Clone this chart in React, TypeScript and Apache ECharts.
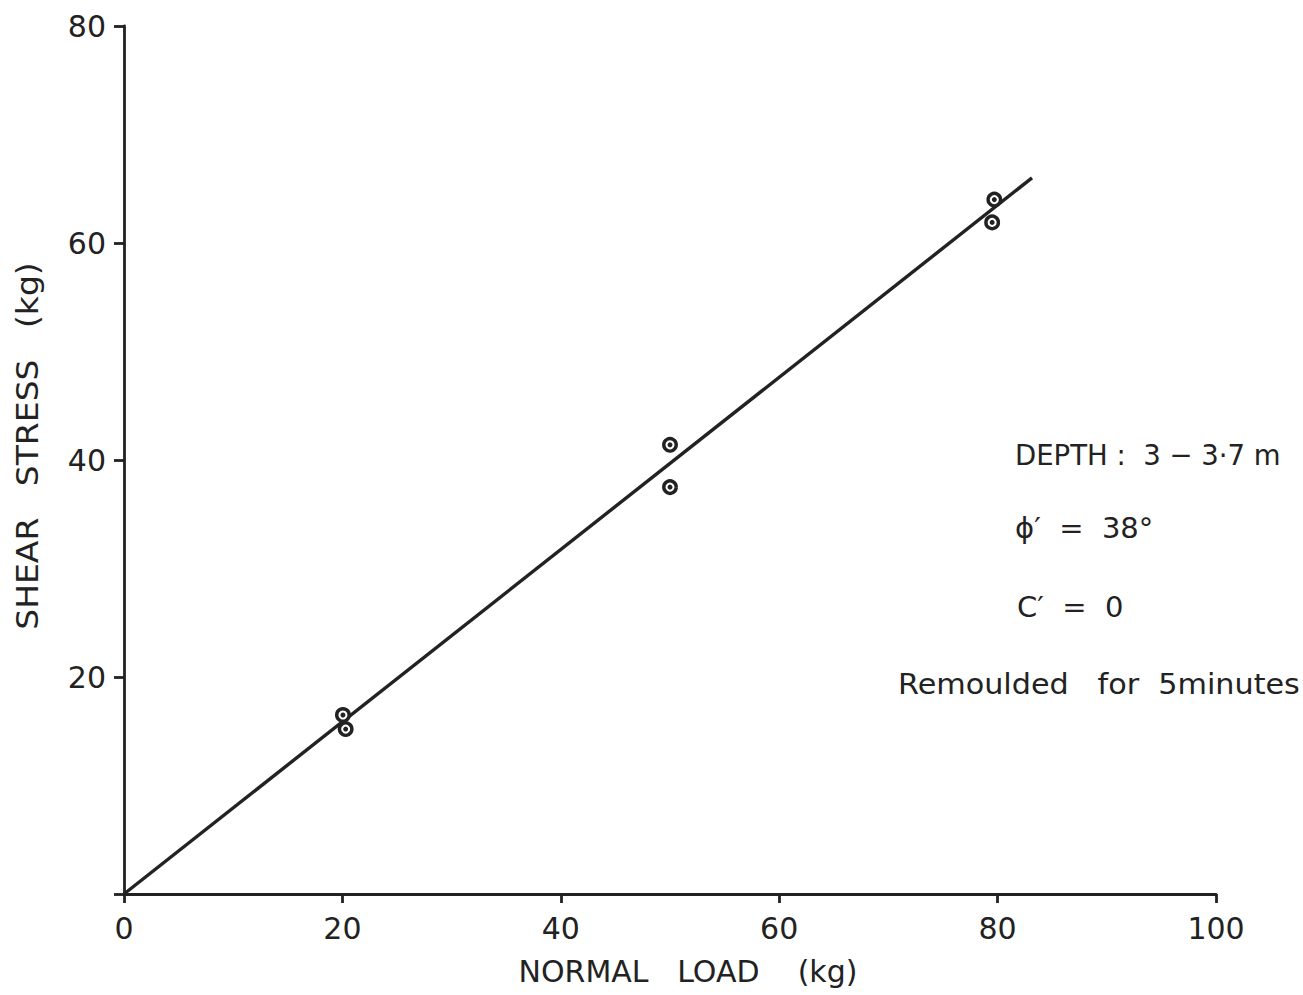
import React, { useEffect, useRef } from "react";
import * as echarts from "echarts";

// Data
const normalLoad = [20.05, 20.3, 50.0, 50.0, 79.7, 79.5];
const shearStress = [16.5, 15.2, 41.4, 37.5, 64.0, 61.9];
const fitLineX = [0, 83.15];
const fitLineY = [0, 66.0];
const xTicks = [0, 20, 40, 60, 80, 100];
const yTicks = [20, 40, 60, 80];
const xAxisTitle = "NORMAL   LOAD    (kg)";
const yAxisTitle = "SHEAR   STRESS   (kg)";
const annotations = ["DEPTH :  3 − 3·7 m", "ϕ′  =  38°", "C′  =  0", "Remoulded   for  5minutes"];

const FONT = "DejaVu Sans";
const INK = "#222";

export default function App() {
  const ref = useRef<HTMLDivElement>(null);
  useEffect(() => {
    if (!ref.current) return;
    const chart = echarts.init(ref.current, undefined, { renderer: "svg" });
    const pts = normalLoad.map((x, i) => [x, shearStress[i]]);
    const line = fitLineX.map((x, i) => [x, fitLineY[i]]);
    const txt = (text: string, x: number, y: number, size: number, sx = 1) => ({
      type: "text",
      x,
      y,
      scaleX: sx,
      style: { text, fontFamily: FONT, fontSize: size, fill: INK, verticalAlign: "middle", align: "left" },
    });
    chart.setOption({
      animation: false,
      backgroundColor: "#fff",
      grid: { left: 124, right: 87, top: 26, bottom: 101 },
      xAxis: {
        type: "value",
        min: 0,
        max: 100,
        interval: 20,
        name: xAxisTitle,
        nameLocation: "middle",
        nameGap: 62,
        nameTextStyle: { fontFamily: FONT, fontSize: 30, color: INK, padding: [0, 0, 0, 36] },
        axisLine: { show: true, lineStyle: { color: INK, width: 2.8 } },
        axisTick: { show: true, inside: false, length: 9, lineStyle: { color: INK, width: 2.8 } },
        axisLabel: {
          fontFamily: FONT,
          fontSize: 30,
          color: INK,
          margin: 19,
          formatter: (v: number) => (xTicks.includes(v) ? String(v) : ""),
        },
        splitLine: { show: false },
      },
      yAxis: {
        type: "value",
        min: 0,
        max: 80,
        interval: 20,
        axisLine: { show: true, lineStyle: { color: INK, width: 2.8 } },
        axisTick: { show: true, inside: false, length: 10, lineStyle: { color: INK, width: 2.8 } },
        axisLabel: {
          fontFamily: FONT,
          fontSize: 30,
          color: INK,
          margin: 18,
          formatter: (v: number) => (yTicks.includes(v) ? String(v) : ""),
        },
        splitLine: { show: false },
      },
      series: [
        {
          type: "line",
          data: line,
          symbol: "none",
          lineStyle: { color: INK, width: 3.4 },
          z: 1,
        },
        {
          type: "scatter",
          data: pts,
          symbol: "circle",
          symbolSize: 12.5,
          itemStyle: { color: "#fff", borderColor: INK, borderWidth: 3.4, opacity: 1 },
          z: 2,
        },
        {
          type: "scatter",
          data: pts,
          symbol: "circle",
          symbolSize: 5,
          itemStyle: { color: INK, opacity: 1 },
          z: 3,
        },
      ],
      graphic: [
        {
          type: "text",
          x: 28,
          y: 446,
          rotation: Math.PI / 2,
          scaleX: 1.1,
          style: {
            text: yAxisTitle,
            fontFamily: FONT,
            fontSize: 30,
            fill: INK,
            align: "center",
            verticalAlign: "middle",
          },
        },
        txt(annotations[0], 1015, 455, 29, 0.95),
        txt(annotations[1], 1015, 528, 29),
        txt(annotations[2], 1017, 607, 29),
        txt(annotations[3], 898, 684, 28, 1.08),
      ],
    });
    return () => chart.dispose();
  }, []);
  return (
    <div
      ref={ref}
      style={{ position: "absolute", left: 0, top: 0, width: 1303, height: 995 }}
    />
  );
}
